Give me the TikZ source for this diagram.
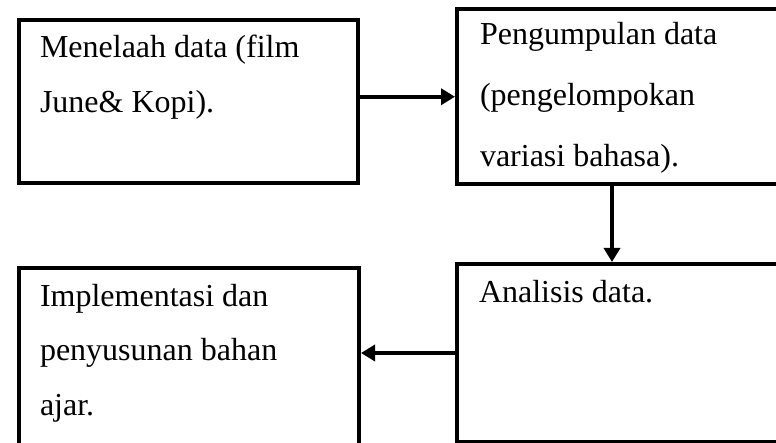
\documentclass[tikz,border=0pt]{standalone}
\usepackage{fontspec}
\setmainfont{Liberation Serif}
\usetikzlibrary{positioning,arrows.meta}

\begin{document}
\begin{tikzpicture}[x=0.5pt, y=-0.5pt, line width=2pt,
    box/.style = {draw, rectangle, inner sep=0pt, anchor=north west},
    txt/.style = {anchor=base west, inner sep=0pt, align=left, font=\fontsize{16}{27.5}\selectfont},
    arr/.style = {-{Triangle[length=7pt, width=8pt]}}]
\useasboundingbox (0,0) rectangle (776,443);
% Nodes
\node[box, minimum width=169.5pt, minimum height=81.5pt] (1) at (17,18) {};
\node[box, minimum width=167.5pt, minimum height=87.25pt] (2) at (455,7.5) {};
\node[box, minimum width=167.5pt, minimum height=89pt] (3) at (455,262) {};
\node[box, minimum width=170pt, minimum height=97pt] (4) at (17,266) {};
% Texts (anchored at the last baseline)
\node[txt] (t1) at (38,113) {Menelaah data (film\\June\& Kopi).};
\node[txt, font=\fontsize{16}{30.5}\selectfont] (t2) at (478,167) {Pengumpulan data\\(pengelompokan\\variasi bahasa).};
\node[txt] (t3) at (477,302) {Analisis data.};
\node[txt, font=\fontsize{16}{27.25}\selectfont] (t4) at (38,415) {Implementasi dan\\penyusunan bahan\\ajar.};
% Edges
\draw[arr] (1.east |- 2.west) -- (2.west);
\draw[arr] ([xshift=-6.25pt]2.south) -- ([xshift=-6.25pt]2.south |- 3.north);
\draw[arr] (3.west) -- (3.west -| 4.east);
\end{tikzpicture}
\end{document}
